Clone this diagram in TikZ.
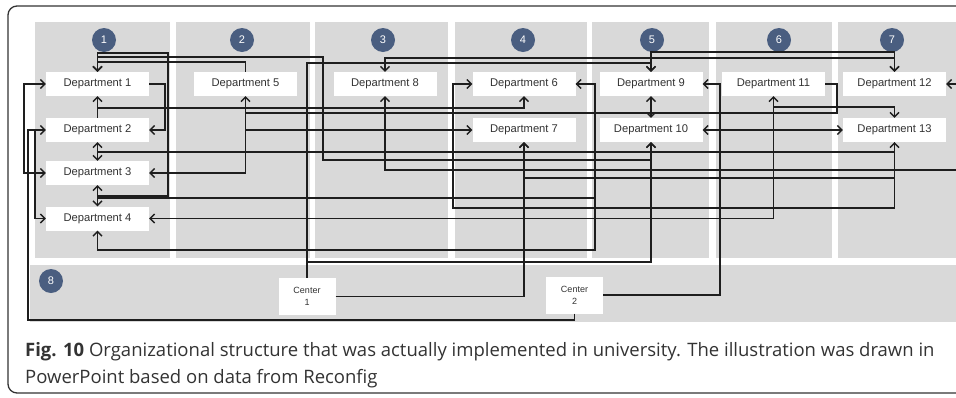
\documentclass[tikz,border=0pt]{standalone}
\usepackage{fontspec}
\setmainfont{Liberation Sans}
\newfontfamily\capfont{Open Sans}
\usetikzlibrary{arrows.meta,calc}
\definecolor{bg}{HTML}{D9D9D9}
\definecolor{badgec}{HTML}{4A5E80}
\definecolor{ln}{HTML}{1E1E1E}
\definecolor{txt}{HTML}{333333}
\begin{document}
\begin{tikzpicture}[x=1pt,y=-1pt,
  dept/.style={fill=white, minimum width=103pt, minimum height=24pt, inner sep=0pt, font=\fontsize{11.2}{13}\selectfont, text=txt},
  ctr/.style={fill=white, minimum width=57pt, minimum height=37pt, inner sep=0pt, align=center, font=\fontsize{9}{12}\selectfont, text=txt},
  badge/.style={circle, fill=badgec, minimum size=24pt, inner sep=0pt, text=white, font=\fontsize{11}{12}\selectfont},
  conn/.style={draw=ln, line width=1.4pt},
  arr/.style={conn, -{Straight Barb[length=4.5pt,width=9pt]}},
  arrb/.style={conn, {Straight Barb[length=4.5pt,width=9pt]}-{Straight Barb[length=4.5pt,width=9pt]}},
  col/.style={fill=bg, draw=none}]
\clip (0,0) rectangle (956,397);
\fill[white] (0,0) rectangle (956,397);
\draw[draw=txt, line width=1.3pt, rounded corners=9pt] (8,6) rectangle (1000,393);
% columns
\fill[col] (35,22) rectangle (170,258);
\fill[col] (176,22) rectangle (310,258);
\fill[col] (315,22) rectangle (448,258);
\fill[col] (455,22) rectangle (587,258);
\fill[col] (592,22) rectangle (709,258);
\fill[col] (716,22) rectangle (832,258);
\fill[col] (838,22) rectangle (960,258);
\fill[col] (30,265) rectangle (960,322);
% badges
\node[badge] (b1) at (104,40) {1};
\node[badge] (b2) at (242,40) {2};
\node[badge] (b3) at (383,40) {3};
\node[badge] (b4) at (523,40) {4};
\node[badge] (b5) at (652,40) {5};
\node[badge] (b6) at (779,40) {6};
\node[badge] (b7) at (892,40) {7};
\node[badge] (b8) at (51,281) {8};
% departments
\node[dept] (d1) at (97.5,84) {Department 1};
\node[dept] (d2) at (97.5,130) {Department 2};
\node[dept] (d3) at (97.5,173) {Department 3};
\node[dept] (d4) at (97.5,218.5) {Department 4};
\node[dept] (d5) at (245.5,84) {Department 5};
\node[dept] (d8) at (385,84) {Department 8};
\node[dept] (d6) at (524,84) {Department 6};
\node[dept] (d7) at (524,130) {Department 7};
\node[dept] (d9) at (651,84) {Department 9};
\node[dept] (d10) at (651,130) {Department 10};
\node[dept] (d11) at (773.5,84) {Department 11};
\node[dept] (d12) at (894.5,84) {Department 12};
\node[dept] (d13) at (894.5,130) {Department 13};
\node[ctr] (c1) at (307,296.5) {Center\\1};
\node[ctr] (c2) at (574.5,295) {Center\\2};
\coordinate (off1) at (965,170);
\coordinate (off2) at (965,84);
% connectors
\draw[arr] (d5.north) -- (d5.north |- 0,62) -| (d1.north);
\draw[arr] (d3.south |- 0,196) -| (168,53) -| (d1.north);
\draw[arrb] (d3.south) -- (d4.north);
\draw[arrb] (d2.south) -- (d3.north);
\draw[arrb] (d9.south) -- (d10.north);
\draw[arrb] (d1.north) |- (323,57) -- (323,160) -| (d10.south);
\draw[arr] (d2.north) -- (d1.south);
\draw[arr] (d1.south |- 0,108) -| (d6.south);
\draw[arr] (d1.east) -- (165,84) |- (d2.east);
\draw[arr] (d2.south |- 0,152) -| (d13.south);
\draw[arr] (d3.south |- 0,198) -| (595,84) -- (d6.east);
\draw[arr] (d6.east) -| (595,250) -| (d4.south);
\draw[arr] (d5.south |- 0,113) |- (d3.east);
\draw[arr] (d5.south |- 0,130) -- (d7.west);
\draw[arr] (d11.east) -- (837,84) |- (d5.south |- 0,113) -- (d5.south);
\draw[arrb] (d4.east) -| (d11.south);
\draw[arrb] (d8.north) |- (d12.north |- 0,58) -- (d12.north);
\draw[arrb] (d9.north) |- (d12.north |- 0,52) -- (d12.north);
\draw[arr] (c1.north) |- (d9.north |- 0,63) -- (d9.north);
\draw[arr] (d13.south) |- (453,208) |- (d6.west);
\draw[arr] (c1.east) -| (d7.south);
\draw[arr] (d13.south) |- (d7.south |- 0,178) -- (d7.south);
\draw[arr] (off1) -| (d8.south);
\draw[arr] (c1.north |- 0,262) -| (d10.south);
\draw[arr] (c2.east) -| (720,84) -- (d9.east);
\draw[arrb] (d10.east) -- (d13.west);
\draw[arr] (d11.south |- 0,107) -| (d13.north);
\draw[arr] (off2) -- (d12.east);
\draw[arr] (c2.south) |- (28,320) |- (d2.west);
\draw[arr] (35,130) |- (d4.west);
\draw[arrb] (d1.west) -| (24,130) |- (d3.west);
% caption
\node[anchor=base west, inner sep=0pt, text=txt, font=\capfont\fontsize{18.5}{20}\selectfont] (cap1) at (25,356) {\textbf{Fig. 10} Organizational structure that was actually implemented in university. The illustration was drawn in};
\node[anchor=base west, inner sep=0pt, text=txt, font=\capfont\fontsize{18.5}{20}\selectfont] (cap2) at (25,383) {PowerPoint based on data from Reconfig};
\end{tikzpicture}
\end{document}
